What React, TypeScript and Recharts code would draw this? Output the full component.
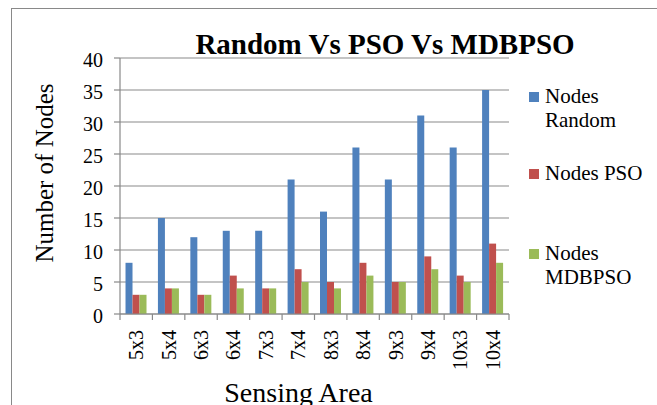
import React from 'react';
import { BarChart, Bar, XAxis, YAxis, CartesianGrid, Legend } from 'recharts';

const categories = ['5x3', '5x4', '6x3', '6x4', '7x3', '7x4', '8x3', '8x4', '9x3', '9x4', '10x3', '10x4'];
const nodesRandom = [8, 15, 12, 13, 13, 21, 16, 26, 21, 31, 26, 35];
const nodesPSO = [3, 4, 3, 6, 4, 7, 5, 8, 5, 9, 6, 11];
const nodesMDBPSO = [3, 4, 3, 4, 4, 5, 4, 6, 5, 7, 5, 8];
const yTicks = [0, 5, 10, 15, 20, 25, 30, 35, 40];
const seriesKeys = ['random', 'pso', 'mdbpso'];
const seriesNames = ['Nodes Random', 'Nodes PSO', 'Nodes MDBPSO'];
const seriesColors = ['#4F81BD', '#C0504D', '#9BBB59'];
const chartTitle = 'Random Vs PSO Vs MDBPSO';
const xTitle = 'Sensing Area';
const yTitle = 'Number of Nodes';

const data = categories.map((c, i) => ({
  area: c,
  random: nodesRandom[i],
  pso: nodesPSO[i],
  mdbpso: nodesMDBPSO[i],
}));

const FONT = "'Liberation Serif', 'Times New Roman', serif";
const GRID = '#898989';

const XTick = (props: any) => {
  const { x, y, payload, index, visibleTicksCount, width } = props;
  const half = payload && payload.offset ? payload.offset : width / visibleTicksCount / 2;
  const isLast = index === visibleTicksCount - 1;
  return (
    <g>
      <line x1={x - half} x2={x - half} y1={y - 6} y2={y} stroke={GRID} strokeWidth={1.2} />
      {isLast && <line x1={x + half} x2={x + half} y1={y - 6} y2={y} stroke={GRID} strokeWidth={1.2} />}
      <text
        transform={`translate(${x},${y + 10}) rotate(-90)`}
        textAnchor="end"
        dy="0.35em"
        fontFamily={FONT}
        fontSize={20}
        fill="#000"
      >
        {payload.value}
      </text>
    </g>
  );
};

const YLabel = (props: any) => {
  const { x, y, height } = props.viewBox;
  return (
    <text
      transform={`translate(${x + 53},${y + height / 2 - 13}) rotate(-90)`}
      textAnchor="middle"
      fontFamily={FONT}
      fontSize={25}
      fill="#000"
    >
      {yTitle}
    </text>
  );
};

const XLabel = (props: any) => {
  const { x, y, width } = props.viewBox;
  return (
    <text x={x + width / 2 - 16} y={y + 88} textAnchor="middle" fontFamily={FONT} fontSize={28} fill="#000">
      {xTitle}
    </text>
  );
};

const legendTops = [84, 161, 241];

const LegendContent = () => (
  <div style={{ position: 'relative', height: 0 }}>
    {seriesNames.map((n, i) => (
      <div
        key={n}
        style={{
          position: 'absolute',
          left: 529,
          top: legendTops[i],
          display: 'flex',
          alignItems: 'flex-start',
          fontFamily: FONT,
          fontSize: 21,
          lineHeight: '24px',
          textAlign: 'left',
          color: '#000',
        }}
      >
        <span style={{ width: 10, height: 10, background: seriesColors[i], marginTop: 8, marginRight: 6, flex: 'none' }} />
        <span style={{ width: 108 }}>{n}</span>
      </div>
    ))}
  </div>
);

export default function App() {
  return (
    <div style={{ position: 'absolute', left: 0, top: 0, width: 657, height: 405, overflow: 'hidden', background: '#fff' }}>
      <div
        style={{
          position: 'absolute',
          left: 11,
          top: 8,
          width: 646,
          height: 397,
          borderLeft: `1.5px solid ${GRID}`,
          borderTop: `1.5px solid ${GRID}`,
        }}
      />
      <div style={{ position: 'absolute', left: 0, top: 0 }}>
        <BarChart
          width={657}
          height={405}
          data={data}
          margin={{ top: 58, right: 148, left: 0, bottom: 0 }}
          barCategoryGap="17%"
          barGap={0}
        >
          <CartesianGrid vertical={false} stroke={GRID} strokeWidth={1.2} />
          <XAxis
            dataKey="area"
            height={91}
            interval={0}
            tickSize={6}
            tickMargin={0}
            tickLine={false}
            axisLine={{ stroke: GRID, strokeWidth: 1.2 }}
            tick={<XTick />}
            label={XLabel}
          />
          <YAxis
            width={120}
            domain={[0, 40]}
            ticks={yTicks}
            interval={0}
            tickSize={6}
            tickMargin={11}
            axisLine={{ stroke: GRID, strokeWidth: 1.2 }}
            tickLine={{ stroke: GRID, strokeWidth: 1.2 }}
            tick={{ fontFamily: FONT, fontSize: 20, fill: '#000', dy: 1.5 }}
            label={YLabel}
          />
          {seriesKeys.map((k, i) => (
            <Bar key={k} dataKey={k} name={seriesNames[i]} fill={seriesColors[i]} isAnimationActive={false} />
          ))}
          <Legend content={<LegendContent />} wrapperStyle={{ left: 0, top: 0, width: 657, height: 0 }} />
          <text x={385} y={54} textAnchor="middle" fontFamily={FONT} fontWeight="bold" fontSize={29} fill="#000">
            {chartTitle}
          </text>
        </BarChart>
      </div>
    </div>
  );
}
